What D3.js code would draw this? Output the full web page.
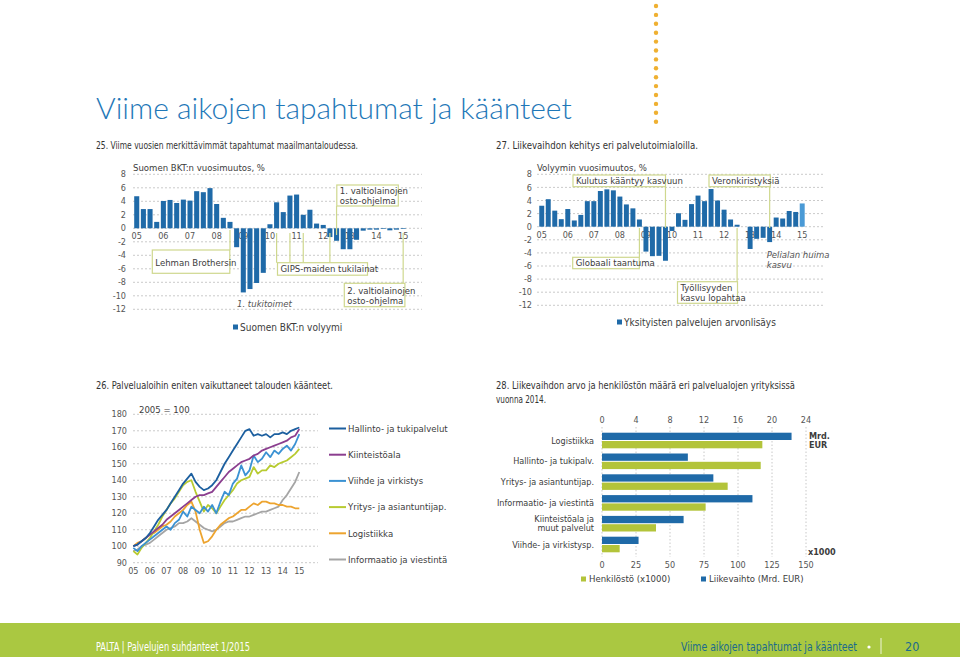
<!DOCTYPE html>
<html>
<head>
<meta charset="utf-8">
<script src="https://cdn.jsdelivr.net/npm/d3@7"></script>
<style>
  body { margin: 0; background: #fff; }
  svg { display: block; }
  text { font-family: "Liberation Sans Narrow", "DejaVu Sans Condensed", Roboto, sans-serif; fill: #3c3c3c; }
  .title { font-family: Lato, "Open Sans", sans-serif; font-weight: 300; }
  .tick { fill: #555; font-size: 9px; }
</style>
</head>
<body>
<svg id="page" width="960" height="657"></svg>
<script>
  // vuosien tunnukset (neljännesvuosittain, eka neljännes)
  const years = ["05", "06", "07", "08", "09", "10", "11", "12", "13", "14", "15"];
  const barTicks = [8, 6, 4, 2, 0, -2, -4, -6, -8, -10, -12];

  // 25. Suomen BKT:n volyymi, vuosimuutos % (2005Q1 - 2015Q1)
  const bktChange = [
    4.75, 2.85, 2.85, 0.95,
    4.05, 4.2, 3.75, 4.25,
    4.1, 5.5, 5.35, 5.95,
    3.6, 1.55, 0.95, -2.8,
    -9.5, -9.0, -8.1, -6.6,
    0.6, 3.85, 2.4, 4.85,
    5.0, 2.0, 2.75, 0.7,
    0.5, -1.3, -1.85, -3.1,
    -3.1, -1.7, -0.35, -0.2,
    -0.2, -0.1, -0.3, -0.2,
    -0.1
  ];

  // 27. Yksityisten palvelujen arvonlisäys, vuosimuutos %
  const palvChange = [
    3.2, 4.2, 2.45, 1.15,
    2.7, 0.95, 1.8, 3.9,
    3.9, 5.45, 5.7, 5.55,
    4.6, 3.4, 2.8, 1.1,
    -3.8, -4.5, -4.45, -5.2,
    -0.65, 2.05, 1.05, 3.45,
    4.75, 3.9, 5.75, 4.0,
    2.6, 1.1, 0.3, 0,
    -3.4, -1.85, -1.7, -2.35,
    1.4, 1.25, 2.4, 2.25,
    3.55
  ];

  // 26. liikevaihdon kehitys, 2005 = 100, neljännesvuosittain
  const seriesNames = ["Hallinto- ja tukipalvelut", "Kiinteistöala", "Viihde ja virkistys",
                       "Yritys- ja asiantuntijap.", "Logistiikka", "Informaatio ja viestintä"];
  const hallinto = [100, 101, 103, 105, 108, 112, 116, 119, 122, 126, 130, 134, 138, 141, 144, 139,
                    136, 134, 135, 137, 140, 145, 150, 154, 158, 162, 166, 170, 171, 167, 168, 167,
                    168, 166, 168, 168, 169, 168, 170, 171, 172];
  const kiinteisto = [100, 101, 103, 105, 107, 109, 111, 113, 116, 118, 120, 122, 124, 126, 128, 130,
                      131, 131, 132, 133, 136, 139, 142, 145, 147, 149, 151, 152, 153, 155, 156, 158,
                      159, 160, 161, 162, 163, 164, 166, 167, 171];
  const viihde = [99, 97, 100, 102, 104, 106, 108, 110, 112, 110, 114, 116, 121, 118, 124, 122,
                  120, 124, 121, 125, 120, 127, 133, 131, 138, 141, 149, 143, 146, 155, 151, 153,
                  157, 154, 158, 156, 159, 161, 158, 162, 168];
  const yritys = [97, 95, 99, 102, 105, 109, 113, 118, 122, 126, 129, 133, 137, 139, 140, 133,
                  127, 121, 125, 123, 120, 124, 128, 131, 134, 138, 140, 141, 142, 148, 144, 146,
                  146, 149, 148, 150, 151, 152, 154, 156, 159];
  const logistiikka = [100, 102, 103, 105, 107, 108, 110, 112, 113, 115, 118, 120, 122, 125, 127, 121,
                       110, 102, 103, 106, 110, 113, 115, 117, 118, 120, 122, 122, 124, 126, 125, 127,
                       127, 126, 126, 125, 125, 124, 124, 123, 123];
  const informaatio = [97, 98, 100, 101, 102, 104, 106, 108, 110, 111, 112, 114, 114, 115, 117, 115,
                       113, 111, 110, 109, 110, 112, 114, 115, 115, 116, 117, 118, 118, 119, 120, 121,
                       121, 122, 123, 124, 128, 131, 135, 139, 145];
  const lineTicks = [180, 170, 160, 150, 140, 130, 120, 110, 100, 90];

  // 28. liikevaihto (Mrd. EUR) ja henkilöstö (x1000) 2014
  const categories = ["Logistiikka", "Hallinto- ja tukipalv.", "Yritys- ja asiantuntijap.",
                      "Informaatio- ja viestintä", "Kiinteistöala ja|muut palvelut", "Viihde- ja virkistysp."];
  const liikevaihto = [22.3, 10.1, 13.1, 17.7, 9.6, 4.3];
  const henkilosto = [117.9, 116.7, 92.4, 76.2, 39.7, 13.0];
  const ticksMrd = [0, 4, 8, 12, 16, 20, 24];
  const ticks1000 = [0, 25, 50, 75, 100, 125, 150];

  // värit
  const barBlue = "#1f6aa8", barLight = "#4a9ad6", noteStroke = "#cfd88e", gridCol = "#bdbdbd";
  const lineColors = ["#1c5f9f", "#8b3e8f", "#3b92d3", "#b8cb31", "#eda42f", "#a5a5a5"];
  const henkCol = "#b3c43a";

  let svg = d3.select('#page');

  // otsikko ja oranssi pisteviiva
  svg.append('g').selectAll('circle').data(d3.range(14)).enter().append('circle')
     .attr('cx', 656).attr('cy', d => 6 + d * 8.9).attr('r', 2.2).attr('fill', '#efb031');

  svg.append('text').attr('class', 'title').attr('x', 96).attr('y', 119)
     .style('font-size', '30px').style('fill', '#1f78b8').text('Viime aikojen tapahtumat ja käänteet');

  let subs = [
    {x: 96, y: 149, w: 262, t: '25. Viime vuosien merkittävimmät tapahtumat maailmantaloudessa.'},
    {x: 496, y: 149, w: 202, t: '27. Liikevaihdon kehitys eri palvelutoimialoilla.'},
    {x: 96, y: 389, w: 237, t: '26. Palvelualoihin eniten vaikuttaneet talouden käänteet.'},
    {x: 496, y: 389, w: 299, t: '28. Liikevaihdon arvo ja henkilöstön määrä eri palvelualojen yrityksissä'},
    {x: 496, y: 403, w: 50, t: 'vuonna 2014.'}
  ];
  svg.append('g').selectAll('text').data(subs).enter().append('text')
     .attr('x', d => d.x).attr('y', d => d.y).attr('textLength', d => d.w)
     .attr('lengthAdjust', 'spacingAndGlyphs').style('font-size', '11px').style('fill', '#333')
     .text(d => d.t);

  // pylväskaavio (25 ja 27)
  function barChart(values, o) {
    let g = svg.append('g');
    let x = d3.scaleBand().domain(d3.range(values.length))
              .range([o.x0, o.x0 + o.step * values.length]).padding(0.24);
    let y = d3.scaleLinear().domain([-12, 8]).range([o.bottom, o.top]);

    g.selectAll('line.grid').data(barTicks).enter().append('line')
     .attr('x1', o.gx0).attr('x2', o.gx1).attr('y1', y).attr('y2', y)
     .attr('stroke', gridCol).attr('stroke-dasharray', '2,2').attr('stroke-width', 0.8);

    g.selectAll('text.yl').data(barTicks).enter().append('text').attr('class', 'tick')
     .attr('x', o.labelX).attr('y', y).attr('dy', '0.35em').attr('text-anchor', 'end').text(d => d);

    g.selectAll('text.yr').data(years).enter().append('text').attr('class', 'tick')
     .attr('x', (d, i) => x(i * 4) + x.bandwidth() / 2).attr('y', y(0) + 11)
     .attr('text-anchor', 'middle').text(d => d);

    g.selectAll('rect').data(values).enter().append('rect')
     .attr('x', (d, i) => x(i)).attr('width', x.bandwidth())
     .attr('y', d => y(Math.max(0, d))).attr('height', d => Math.abs(y(d) - y(0)))
     .attr('fill', (d, i) => o.lastColor && i == values.length - 1 ? o.lastColor : barBlue);

    g.append('text').attr('x', o.gx0).attr('y', o.top - 3).style('font-size', '9.5px').text(o.label);

    o.notes.forEach(n => {
      (n.q || []).forEach(q => {
        let cx = x(q) + x.bandwidth() / 2;
        g.append('line').attr('x1', cx).attr('x2', cx).attr('y1', n.ly[0]).attr('y2', n.ly[1])
         .attr('stroke', noteStroke).attr('stroke-width', 1.2);
      });
      if (n.box) g.append('rect').attr('x', n.box[0]).attr('y', n.box[1])
                  .attr('width', n.box[2]).attr('height', n.box[3])
                  .attr('fill', '#fff').attr('stroke', noteStroke).attr('stroke-width', 1.2);
      let tx = n.box ? n.box[0] + 3 : n.pos[0], ty = n.box ? n.box[1] + n.dy : n.pos[1];
      n.lines.forEach((t, k) => g.append('text').attr('x', tx).attr('y', ty + k * 10)
         .style('font-size', '9.5px').style('font-style', n.italic ? 'italic' : null)
         .style('fill', n.italic ? '#555' : '#3c3c3c').text(t));
    });

    g.append('rect').attr('x', o.legend[0]).attr('y', o.legend[1] - 2.5).attr('width', 5).attr('height', 5)
     .attr('fill', barBlue);
    g.append('text').attr('x', o.legend[0] + 7).attr('y', o.legend[1]).attr('dy', '0.35em')
     .style('font-size', '10px').text(o.legendText);
  }

  barChart(bktChange, {
    x0: 132.6, step: 6.7, top: 174.3, bottom: 309.3, gx0: 133, gx1: 422, labelX: 126,
    label: 'Suomen BKT:n vuosimuutos, %', legend: [233, 327], legendText: 'Suomen BKT:n volyymi',
    notes: [
      {lines: ['1. valtiolainojen', 'osto-ohjelma'], q: [30], box: [336.8, 185, 61.5, 21], dy: 8.5, ly: [206, 235]},
      {lines: ['Lehman Brothersin'], q: [14], box: [152.3, 250, 77.5, 23.3], dy: 16, ly: [230, 250]},
      {lines: ['GIPS-maiden tukilainat'], q: [21, 23, 25, 29], box: [277.5, 262.7, 90, 12.5], dy: 9.5, ly: [233, 262.7]},
      {lines: ['2. valtiolainojen', 'osto-ohjelma'], q: [40], box: [344.3, 283.3, 60.6, 23.4], dy: 11, ly: [233, 283.3]},
      {lines: ['1. tukitoimet'], italic: true, pos: [237, 307]}
    ]
  });

  barChart(palvChange, {
    x0: 537.7, step: 6.55, top: 174.3, bottom: 305.3, gx0: 537, gx1: 825, labelX: 532,
    label: 'Volyymin vuosimuutos, %', legend: [617, 322], legendText: 'Yksityisten palvelujen arvonlisäys',
    lastColor: barLight,
    notes: [
      {lines: ['Kulutus kääntyy kasvuun'], q: [19], box: [573, 175, 92.5, 11.7], dy: 9, ly: [186.7, 228]},
      {lines: ['Veronkiristyksiä'], q: [35], box: [709, 175, 61.3, 11.7], dy: 9, ly: [186.7, 228]},
      {lines: ['Globaali taantuma'], q: [15], box: [572.7, 257.3, 66.6, 11.4], dy: 9, ly: [228, 257.3]},
      {lines: ['Työllisyyden', 'kasvu lopahtaa'], q: [30], box: [677.5, 281.7, 60, 21.6], dy: 9, ly: [228, 281.7]},
      {lines: ['Pelialan huima', 'kasvu'], italic: true, pos: [766.7, 258]}
    ]
  });

  // 26. viivakaavio
  {
    let g = svg.append('g');
    let x = d3.scaleLinear().domain([2005, 2015]).range([133.3, 299.3]);
    let y = d3.scaleLinear().domain([90, 180]).range([562.7, 414.3]);

    g.selectAll('line.grid').data(lineTicks).enter().append('line')
     .attr('x1', 133).attr('x2', 318).attr('y1', y).attr('y2', y)
     .attr('stroke', gridCol).attr('stroke-dasharray', '2,2').attr('stroke-width', 0.8);
    g.selectAll('text.yl').data(lineTicks).enter().append('text').attr('class', 'tick')
     .attr('x', 127).attr('y', y).attr('dy', '0.35em').attr('text-anchor', 'end').text(d => d);
    g.selectAll('text.xl').data(years).enter().append('text').attr('class', 'tick')
     .attr('x', (d, i) => x(2005 + i)).attr('y', 574).attr('text-anchor', 'middle').text(d => d);
    g.append('text').attr('x', 139).attr('y', 412.5).style('font-size', '9.5px').text('2005 = 100');

    let series = [hallinto, kiinteisto, viihde, yritys, logistiikka, informaatio];
    let line = d3.line().x((d, i) => x(2005 + i / 4)).y(d => y(d));
    g.selectAll('path').data(series.map((v, i) => ({v, i})).reverse()).enter().append('path')
     .attr('d', d => line(d.v)).attr('fill', 'none').attr('stroke', d => lineColors[d.i])
     .attr('stroke-width', 1.8).attr('stroke-linejoin', 'round');

    let lg = g.selectAll('g.lg').data(seriesNames).enter().append('g')
              .attr('transform', (d, i) => `translate(329,${428.5 + i * 26.2})`);
    lg.append('line').attr('x1', 0).attr('x2', 17).attr('stroke', (d, i) => lineColors[i]).attr('stroke-width', 2);
    lg.append('text').attr('x', 19).attr('dy', '0.35em').style('font-size', '9.5px').text(d => d);
  }

  // 28. vaakapylväät
  {
    let g = svg.append('g');
    let xM = d3.scaleLinear().domain([0, 24]).range([602, 806]);
    let xH = d3.scaleLinear().domain([0, 150]).range([602, 806]);
    let y = d3.scaleBand().domain(categories).range([430.1, 554.9]).paddingInner(0.25).paddingOuter(0.125);
    let h = y.bandwidth() / 2 - 0.5;

    g.selectAll('line.grid').data(ticksMrd).enter().append('line')
     .attr('x1', xM).attr('x2', xM).attr('y1', 427).attr('y2', 557)
     .attr('stroke', '#c8c8c8').attr('stroke-dasharray', '1.5,2');
    g.selectAll('text.tm').data(ticksMrd).enter().append('text').attr('class', 'tick')
     .attr('x', xM).attr('y', 423).attr('text-anchor', 'middle').text(d => d);
    g.selectAll('text.th').data(ticks1000).enter().append('text').attr('class', 'tick')
     .attr('x', xH).attr('y', 568).attr('text-anchor', 'middle').text(d => d);

    g.selectAll('rect.m').data(liikevaihto).enter().append('rect')
     .attr('x', xM(0)).attr('y', (d, i) => y(categories[i])).attr('height', h)
     .attr('width', d => xM(d) - xM(0)).attr('fill', barBlue);
    g.selectAll('rect.h').data(henkilosto).enter().append('rect')
     .attr('x', xH(0)).attr('y', (d, i) => y(categories[i]) + h + 1).attr('height', h)
     .attr('width', d => xH(d) - xH(0)).attr('fill', henkCol);

    g.selectAll('text.cat').data(categories).enter().append('text')
     .attr('text-anchor', 'end').style('font-size', '9px')
     .each(function (d) {
       let parts = d.split('|'), cy = y(d) + y.bandwidth() / 2;
       parts.forEach((p, k) => d3.select(this).append('tspan').attr('x', 594)
         .attr('y', cy + (k - (parts.length - 1) / 2) * 9).attr('dy', '0.35em').text(p));
     });

    g.append('text').attr('x', 809).attr('y', 439).style('font-size', '9px').style('font-weight', 'bold').text('Mrd.');
    g.append('text').attr('x', 809).attr('y', 447.5).style('font-size', '9px').style('font-weight', 'bold').text('EUR');
    g.append('text').attr('x', 808).attr('y', 555).style('font-size', '9px').style('font-weight', 'bold').text('x1000');

    let leg = [{c: henkCol, t: 'Henkilöstö (x1000)', x: 581}, {c: barBlue, t: 'Liikevaihto (Mrd. EUR)', x: 701}];
    g.selectAll('rect.lg').data(leg).enter().append('rect')
     .attr('x', d => d.x).attr('y', 576.5).attr('width', 5).attr('height', 5).attr('fill', d => d.c);
    g.selectAll('text.lg').data(leg).enter().append('text')
     .attr('x', d => d.x + 8).attr('y', 579).attr('dy', '0.35em').style('font-size', '9.5px').text(d => d.t);
  }

  // alapalkki
  svg.append('rect').attr('x', 0).attr('y', 623).attr('width', 960).attr('height', 34).attr('fill', '#aac841');
  svg.append('text').attr('x', 96).attr('y', 651).attr('textLength', 154).attr('lengthAdjust', 'spacingAndGlyphs')
     .style('font-size', '12.5px').style('fill', '#fff').text('PALTA | Palvelujen suhdanteet 1/2015');
  svg.append('text').attr('x', 681).attr('y', 651).attr('textLength', 176).attr('lengthAdjust', 'spacingAndGlyphs')
     .style('font-size', '12.5px').style('fill', '#1b6b8c').text('Viime aikojen tapahtumat ja käänteet');
  svg.append('circle').attr('cx', 869).attr('cy', 647).attr('r', 1.6).attr('fill', '#fff');
  svg.append('line').attr('x1', 881).attr('x2', 881).attr('y1', 638).attr('y2', 654).attr('stroke', '#fff').attr('stroke-width', 0.8);
  svg.append('text').attr('x', 905).attr('y', 651).style('font-size', '12.5px').style('fill', '#1b6b8c').text('20');
</script>
</body>
</html>
